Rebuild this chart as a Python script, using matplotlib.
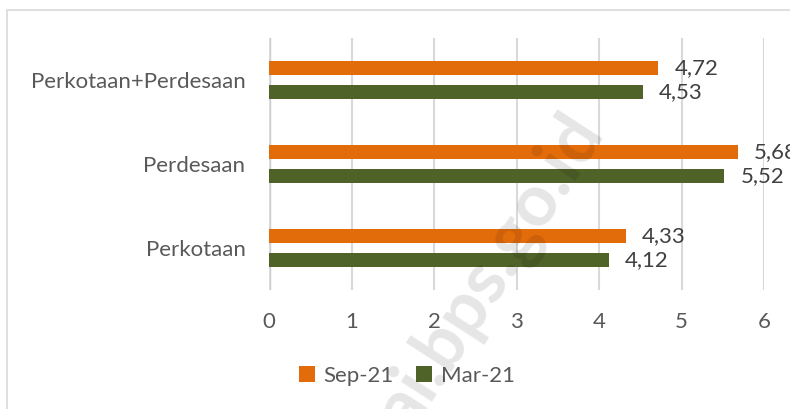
import matplotlib.pyplot as plt
from matplotlib.patches import Rectangle
import numpy as np

# data
categories = ["Perkotaan", "Perdesaan", "Perkotaan+Perdesaan"]
sep21 = [4.33, 5.68, 4.72]
mar21 = [4.12, 5.52, 4.53]
series_names = ["Sep-21", "Mar-21"]
xticks = [0, 1, 2, 3, 4, 5, 6]

orange = "#E36C0A"
green = "#4F6228"
txt = "#595959"
fs = 16

plt.rcParams['font.family'] = ['Lato', 'DejaVu Sans']

fig = plt.figure(figsize=(7.9, 4.09), dpi=100)
ax = fig.add_axes([269 / 790, 1 - 290 / 409, (764 - 269) / 790, 252 / 409])

# outer border of the chart area
fig.patches.append(Rectangle((7 / 790, -0.1), 1.1, 1 - 10 / 409 + 0.1,
                             transform=fig.transFigure, fill=False,
                             edgecolor="#d9d9d9", linewidth=1.2))

y = np.arange(len(categories))
h = 0.17
off = 0.14
b1 = ax.barh(y + off, sep21, height=h, color=orange, label=series_names[0], zorder=3)
b2 = ax.barh(y - off, mar21, height=h, color=green, label=series_names[1], zorder=3)

for bars, vals in ((b1, sep21), (b2, mar21)):
    for bar, v in zip(bars, vals):
        ax.annotate(f"{v:.2f}".replace(".", ","),
                    (v, bar.get_y() + bar.get_height() / 2),
                    xytext=(16, 0), textcoords="offset pixels",
                    va="center", ha="left", fontsize=fs, color="#404040",
                    annotation_clip=False)

ax.set_xlim(0, 6)
ax.set_ylim(-0.5, 2.5)
ax.set_xticks(xticks)
ax.set_xticklabels([str(t) for t in xticks])
ax.set_yticks(y)
ax.set_yticklabels(categories)
ax.tick_params(axis="both", length=0, labelsize=fs, labelcolor=txt)
ax.tick_params(axis="x", pad=16)
ax.tick_params(axis="y", pad=17)
ax.grid(axis="x", color="#d9d9d9", linewidth=1.5, zorder=0)
for s in ax.spines.values():
    s.set_visible(False)
ax.axvline(0, color="#d0d0d0", linewidth=2.5, zorder=1)

leg = fig.legend(handles=[b1, b2], labels=series_names, loc="center",
                 bbox_to_anchor=(407 / 790, 1 - 376 / 409), ncol=2, frameon=False,
                 fontsize=fs, handlelength=0.7, handleheight=0.7,
                 handletextpad=0.4, columnspacing=1.0)
for t in leg.get_texts():
    t.set_color(txt)

# watermark
fig.text(490 / 790, 1 - 272 / 409, "ai.bps.go.id", rotation=57, fontsize=52,
         fontweight="bold", color="black", alpha=0.1, ha="center", va="center",
         zorder=10)

fig.savefig("out.png", dpi=100)
